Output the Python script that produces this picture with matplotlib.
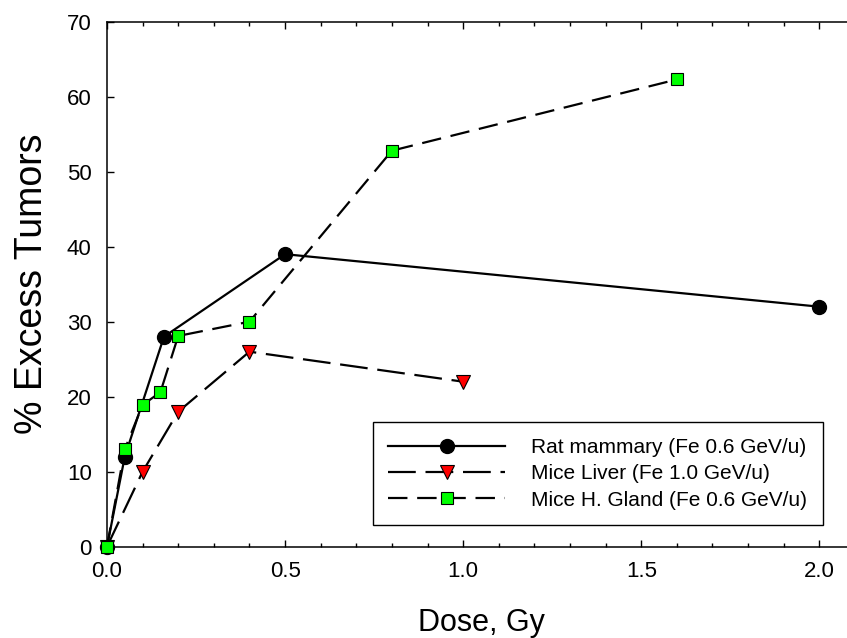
import numpy as np
import matplotlib
matplotlib.use("Agg")
import matplotlib.pyplot as plt
from matplotlib.ticker import MultipleLocator

plt.rcParams['font.family'] = ['Liberation Sans', 'DejaVu Sans']
plt.rcParams['lines.scale_dashes'] = False

# ---------- data ----------
rat_dose = [0.0, 0.05, 0.16, 0.5, 2.0]
rat_pct = [0.0, 12.0, 28.0, 39.0, 32.0]

liver_dose = [0.0, 0.1, 0.2, 0.4, 1.0]
liver_pct = [0.0, 10.0, 18.0, 26.0, 22.0]

gland_dose = [0.0, 0.05, 0.1, 0.15, 0.2, 0.4, 0.8, 1.6]
gland_pct = [0.0, 13.0, 18.9, 20.6, 28.1, 30.0, 52.8, 62.3]

labels = ["Rat mammary (Fe 0.6 GeV/u)",
          "Mice Liver (Fe 1.0 GeV/u)",
          "Mice H. Gland (Fe 0.6 GeV/u)"]

# ---------- plot ----------
fig = plt.figure(figsize=(8.47, 6.38), dpi=100)
ax = fig.add_axes([0.1263, 0.1431, 0.8831, 0.8229])

ax.plot(rat_dose, rat_pct, color='black', lw=1.6, ls='-',
        marker='o', ms=10, mfc='black', mec='black', label=labels[0],
        zorder=3, clip_on=False)
ax.plot(liver_dose, liver_pct, color='black', lw=1.6, dashes=(20, 7),
        marker='v', ms=10, mfc='#ff0000', mec='black', mew=0.8,
        label=labels[1], zorder=4, clip_on=False)
ax.plot(gland_dose, gland_pct, color='black', lw=1.6, dashes=(14, 7),
        marker='s', ms=8.5, mfc='#00ff00', mec='black', mew=0.8,
        label=labels[2], zorder=5, clip_on=False)

ax.set_xlim(0, 2.1)
ax.set_ylim(0, 70)
ax.xaxis.set_major_locator(MultipleLocator(0.5))
ax.xaxis.set_minor_locator(MultipleLocator(0.1))
ax.yaxis.set_major_locator(MultipleLocator(10))
ax.xaxis.set_major_formatter(plt.FormatStrFormatter('%.1f'))

ax.tick_params(axis='both', which='both', direction='in', top=True, right=True,
               width=1.0, labelsize=16)
ax.tick_params(axis='both', which='major', length=5)
ax.tick_params(axis='x', which='major', pad=10)
ax.tick_params(axis='y', which='major', pad=11)
ax.tick_params(axis='x', which='minor', length=3)
for sp in ax.spines.values():
    sp.set_linewidth(1.1)

ax.set_xlabel("Dose, Gy", fontsize=22, labelpad=19)
ax.set_ylabel("% Excess Tumors", fontsize=27, labelpad=12)

leg = ax.legend(loc='lower right', bbox_to_anchor=(0.957, 0.041),
                borderaxespad=0, fontsize=15, numpoints=1,
                handlelength=5.6, handletextpad=1.25, labelspacing=0.35,
                borderpad=0.75, fancybox=False, framealpha=1,
                edgecolor='black')
leg.get_frame().set_linewidth(1.0)

fig.savefig("out.png", dpi=100)
